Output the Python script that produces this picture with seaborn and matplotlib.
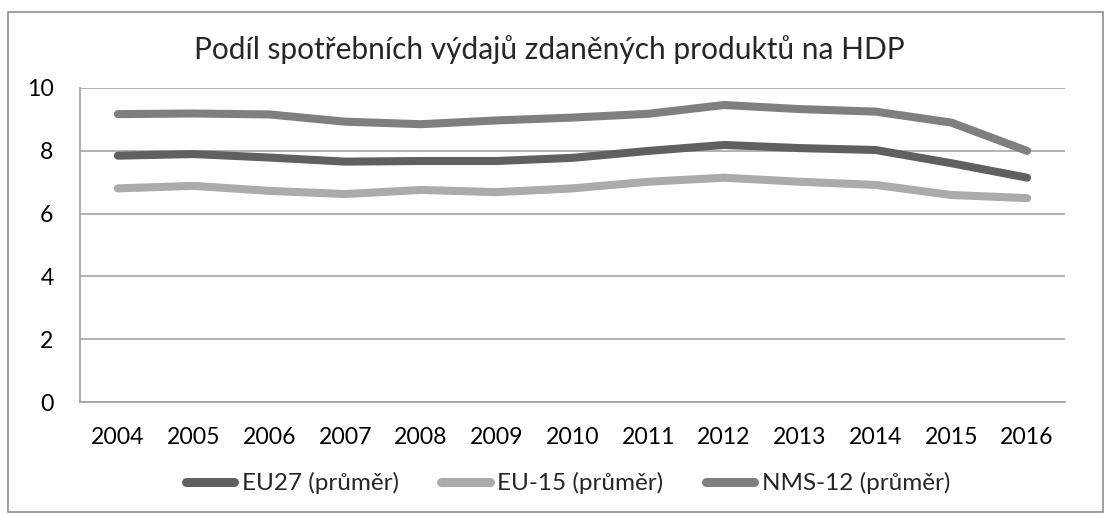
import matplotlib
matplotlib.use("Agg")
import matplotlib.pyplot as plt
import seaborn as sns
import pandas as pd
from matplotlib.patches import Rectangle

years = ["2004", "2005", "2006", "2007", "2008", "2009", "2010",
         "2011", "2012", "2013", "2014", "2015", "2016"]
eu27 = [7.84, 7.89, 7.78, 7.65, 7.67, 7.67, 7.77, 7.99, 8.18, 8.08, 8.02, 7.60, 7.14]
eu15 = [6.80, 6.88, 6.72, 6.62, 6.75, 6.68, 6.80, 7.01, 7.14, 7.01, 6.91, 6.59, 6.49]
nms12 = [9.16, 9.18, 9.15, 8.92, 8.84, 8.96, 9.05, 9.17, 9.45, 9.32, 9.24, 8.89, 7.99]
series_names = ["EU27 (průměr)", "EU-15 (průměr)", "NMS-12 (průměr)"]
colors = ["#606060", "#ababab", "#7f7f7f"]
title = "Podíl spotřebních výdajů zdaněných produktů na HDP"

df = pd.DataFrame({
    "year": years * 3,
    "value": eu27 + eu15 + nms12,
    "series": sum([[n] * len(years) for n in series_names], []),
})

sns.set_theme(style="white")
plt.rcParams["font.family"] = ["Lato", "DejaVu Sans"]

fig = plt.figure(figsize=(11.10, 5.16), dpi=100)
ax = fig.add_axes([80 / 1110, 1 - 402.3 / 516, (1065 - 80) / 1110, (402.3 - 87.7) / 516])

sns.lineplot(data=df, x="year", y="value", hue="series", hue_order=series_names,
             palette=colors, linewidth=5.8, sort=False, ax=ax, legend=False)
for line in ax.lines:
    line.set_solid_capstyle("round")
    line.set_solid_joinstyle("round")
    line.set_zorder(3)

ax.set_xlim(-0.5, len(years) - 0.5)
ax.set_ylim(0, 10)
ax.set_yticks([0, 2, 4, 6, 8, 10])
ax.yaxis.grid(True, color="#a6a6a6", linewidth=1.2)
ax.set_axisbelow(True)
ax.set_xlabel("")
ax.set_ylabel("")
for s in ["top", "right"]:
    ax.spines[s].set_visible(False)
for s in ["left", "bottom"]:
    ax.spines[s].set_color("#a0a0a0")
    ax.spines[s].set_linewidth(1.2)
ax.tick_params(axis="both", length=0, labelsize=16.6, colors="black")
ax.tick_params(axis="y", pad=19)
ax.tick_params(axis="x", pad=18)

fig.text(549 / 1110, 1 - 59 / 516, title, ha="center", va="baseline", fontsize=21.5)

handles = [plt.Line2D([], [], color=c, linewidth=6.5, solid_capstyle="round") for c in colors]
fig.legend(handles, series_names, loc="center", bbox_to_anchor=(568 / 1110, 1 - 483 / 516),
           ncol=3, frameon=False, fontsize=17.5, handlelength=2.0, handletextpad=0.3,
           columnspacing=1.75, borderpad=0, borderaxespad=0)

fig.add_artist(Rectangle((8 / 1110, 4 / 516), 1095 / 1110, 500 / 516, transform=fig.transFigure,
                         fill=False, edgecolor="#909090", linewidth=1.2))

fig.savefig("out.png", dpi=100)
